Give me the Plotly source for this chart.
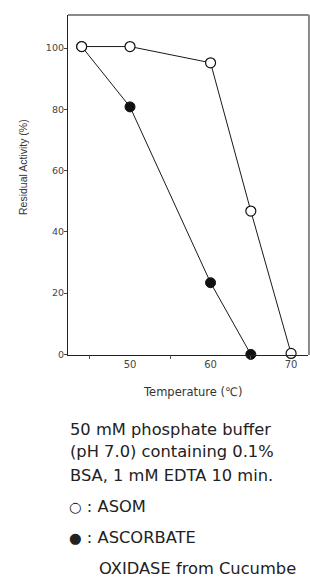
import plotly.graph_objects as go

# Data
temp_asom = [44, 50, 60, 65, 70]
act_asom = [100.5, 100.5, 95.2, 46.8, 0.3]
temp_asc = [44, 50, 60, 65]
act_asc = [100.5, 80.8, 23.4, 0.0]
x_ticks = [50, 60, 70]
y_ticks = [0, 20, 40, 60, 80, 100]

W, H = 310, 578
L, R, T, B = 68, 2, 15, 223
PW = W - L - R
PH = H - T - B

def px(x):
    return (x - L) / PW

def py(y):
    return (H - B - y) / PH

fig = go.Figure()
fig.add_trace(go.Scatter(
    x=temp_asc, y=act_asc, mode="lines+markers",
    line=dict(color="#1a1a1a", width=1),
    marker=dict(size=10, color="#111", line=dict(color="#111", width=1)),
    showlegend=False, cliponaxis=False))
fig.add_trace(go.Scatter(
    x=temp_asom, y=act_asom, mode="lines+markers",
    line=dict(color="#1a1a1a", width=1),
    marker=dict(size=10, color="white", line=dict(color="#111", width=1.2)),
    showlegend=False, cliponaxis=False))

fig.update_layout(
    width=W, height=H,
    margin=dict(l=L, r=R, t=T, b=B),
    paper_bgcolor="white", plot_bgcolor="white",
    font=dict(family="DejaVu Sans, sans-serif", color="#333"),
)
fig.update_xaxes(
    range=[42.3, 72.1], tickvals=x_ticks, ticks="", showgrid=False, zeroline=False,
    showline=True, linecolor="#222", linewidth=1.2,
    tickfont=dict(size=10, color="#444"),
    minor=dict(tick0=45, dtick=10, ticks="outside", ticklen=3, tickcolor="#555", showgrid=False),
)
fig.update_yaxes(
    range=[-0.2, 110.8], tickvals=y_ticks, ticks="outside", ticklen=3, tickcolor="#444",
    showgrid=False, zeroline=False, showline=True, linecolor="#222", linewidth=1.2,
    tickfont=dict(size=9.5, color="#444"), ticklabelstandoff=-2,
)

# top and right frame (gray)
fig.add_shape(type="line", xref="paper", yref="paper", x0=0, x1=1.004, y0=1, y1=1,
              line=dict(color="#8a8a8a", width=2), layer="above")
fig.add_shape(type="line", xref="paper", yref="paper", x0=1.004, x1=1.004, y0=0, y1=1,
              line=dict(color="#8a8a8a", width=2), layer="above")

fig.add_annotation(text="Residual Activity (%)", xref="paper", yref="paper",
                   x=px(23), y=py(167), textangle=-90, showarrow=False,
                   font=dict(size=10.5, color="#333", family="Liberation Sans, Arial, sans-serif"),
                   xanchor="center", yanchor="middle")
fig.add_annotation(text="Temperature (℃)", xref="paper", yref="paper",
                   x=px(192), y=py(392), showarrow=False,
                   font=dict(size=11.5, color="#333"), xanchor="center", yanchor="middle")

lines = [("50 mM phosphate buffer", 68, 429),
         ("(pH 7.0) containing 0.1%", 68, 452),
         ("BSA, 1 mM EDTA 10 min.", 68, 475),
         ("<span style='font-size:14.5px'>○</span> : ASOM", 67, 506),
         ("<span style='font-size:14.5px'>●</span> : ASCORBATE", 67, 537),
         ("OXIDASE from Cucumbe", 97, 568)]
for txt, xx, yy in lines:
    fig.add_annotation(text=txt, xref="paper", yref="paper", x=px(xx), y=py(yy),
                       showarrow=False, xanchor="left", yanchor="middle",
                       font=dict(size=16.3, color="#222"))

fig.write_html("out.html", config={"displayModeBar": False},
               post_script="document.body.style.margin='0';document.body.style.overflow='hidden';")
